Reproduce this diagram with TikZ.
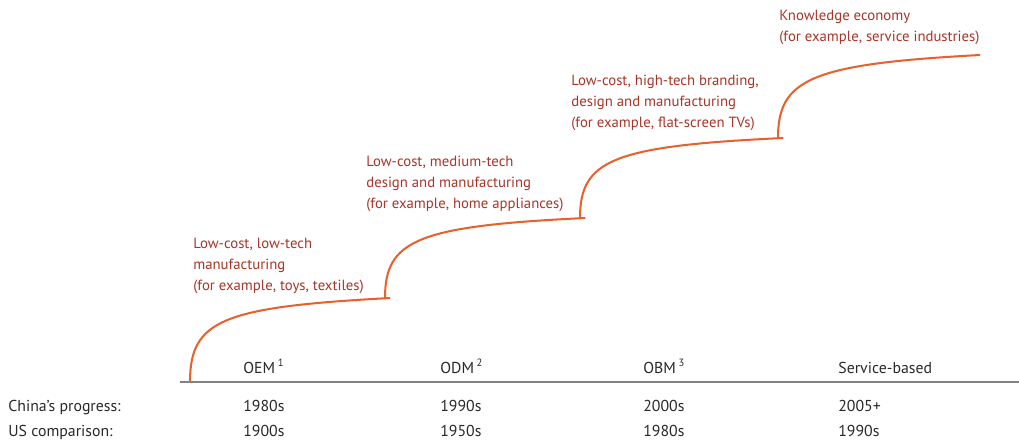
\documentclass[tikz,border=0pt]{standalone}
\usepackage{fontspec}
\setmainfont{PT Sans}
\usepackage{tikz}
\usetikzlibrary{positioning}
\definecolor{stepred}{RGB}{168,52,40}
\definecolor{steporange}{RGB}{232,96,44}
\definecolor{axisgray}{RGB}{130,130,130}
\definecolor{rowtext}{RGB}{40,40,40}
\tikzset{
    stagelabel/.style={anchor=north west, inner sep=0pt, align=left, text=stepred, font=\fontsize{8.4}{11.9}\selectfont},
    rowlabel/.style={anchor=base west, inner sep=0pt, text=rowtext, font=\fontsize{9}{11}\selectfont},
    stepcurve/.style={draw=steporange, line width=1.15pt},
    axisline/.style={draw=axisgray, line width=0.7pt}
}

\begin{document}
\begin{tikzpicture}[x=0.02cm, y=-0.02cm]
    \useasboundingbox (0,0) rectangle (1019,441);

    % Step points of the curve
    \coordinate (s0) at (190,382);
    \coordinate (s1) at (385,298);
    \coordinate (s2) at (580,218);
    \coordinate (s3) at (778,138);
    \coordinate (s4) at (980,55);
    \coordinate (axisL) at (180,382);
    \coordinate (axisR) at (1019,382);

    % Baseline
    \draw [axisline] (axisL) -- (axisR);

    % Stepped curve
    \draw [stepcurve] (s0) .. controls +(0,-62) and +(-168,9) .. ([xshift=3pt]s1);
    \draw [stepcurve] (s1) .. controls +(0,-58) and +(-168,8) .. ([xshift=3pt]s2);
    \draw [stepcurve] (s2) .. controls +(0,-58) and +(-171,8) .. ([xshift=3pt]s3);
    \draw [stepcurve] (s3) .. controls +(0,-59) and +(-169,9) .. (s4);

    % Stage labels
    \node [stagelabel] (stage1) at (193,238) {Low-cost, low-tech\\manufacturing\\(for example, toys, textiles)};
    \node [stagelabel] (stage2) at (366,156) {Low-cost, medium-tech\\design and manufacturing\\(for example, home appliances)};
    \node [stagelabel] (stage3) at (571,75) {Low-cost, high-tech branding,\\design and manufacturing\\(for example, flat-screen TVs)};
    \node [stagelabel] (stage4) at (779,10) {Knowledge economy\\(for example, service industries)};

    % Model names
    \node [rowlabel] (oem) at (243,373) {OEM\,\textsuperscript{1}};
    \node [rowlabel] (odm) at (440,373) {ODM\,\textsuperscript{2}};
    \node [rowlabel] (obm) at (643,373) {OBM\,\textsuperscript{3}};
    \node [rowlabel] (serv) at (838,373) {Service-based};

    % Timeline rows
    \node [rowlabel] (china) at (8,411) {China's progress:};
    \node [rowlabel] (c1) at (243,411) {1980s};
    \node [rowlabel] (c2) at (440,411) {1990s};
    \node [rowlabel] (c3) at (643,411) {2000s};
    \node [rowlabel] (c4) at (838,411) {2005+};
    \node [rowlabel] (us) at (8,436) {US comparison:};
    \node [rowlabel] (u1) at (243,436) {1900s};
    \node [rowlabel] (u2) at (440,436) {1950s};
    \node [rowlabel] (u3) at (643,436) {1980s};
    \node [rowlabel] (u4) at (838,436) {1990s};
\end{tikzpicture}
\end{document}
